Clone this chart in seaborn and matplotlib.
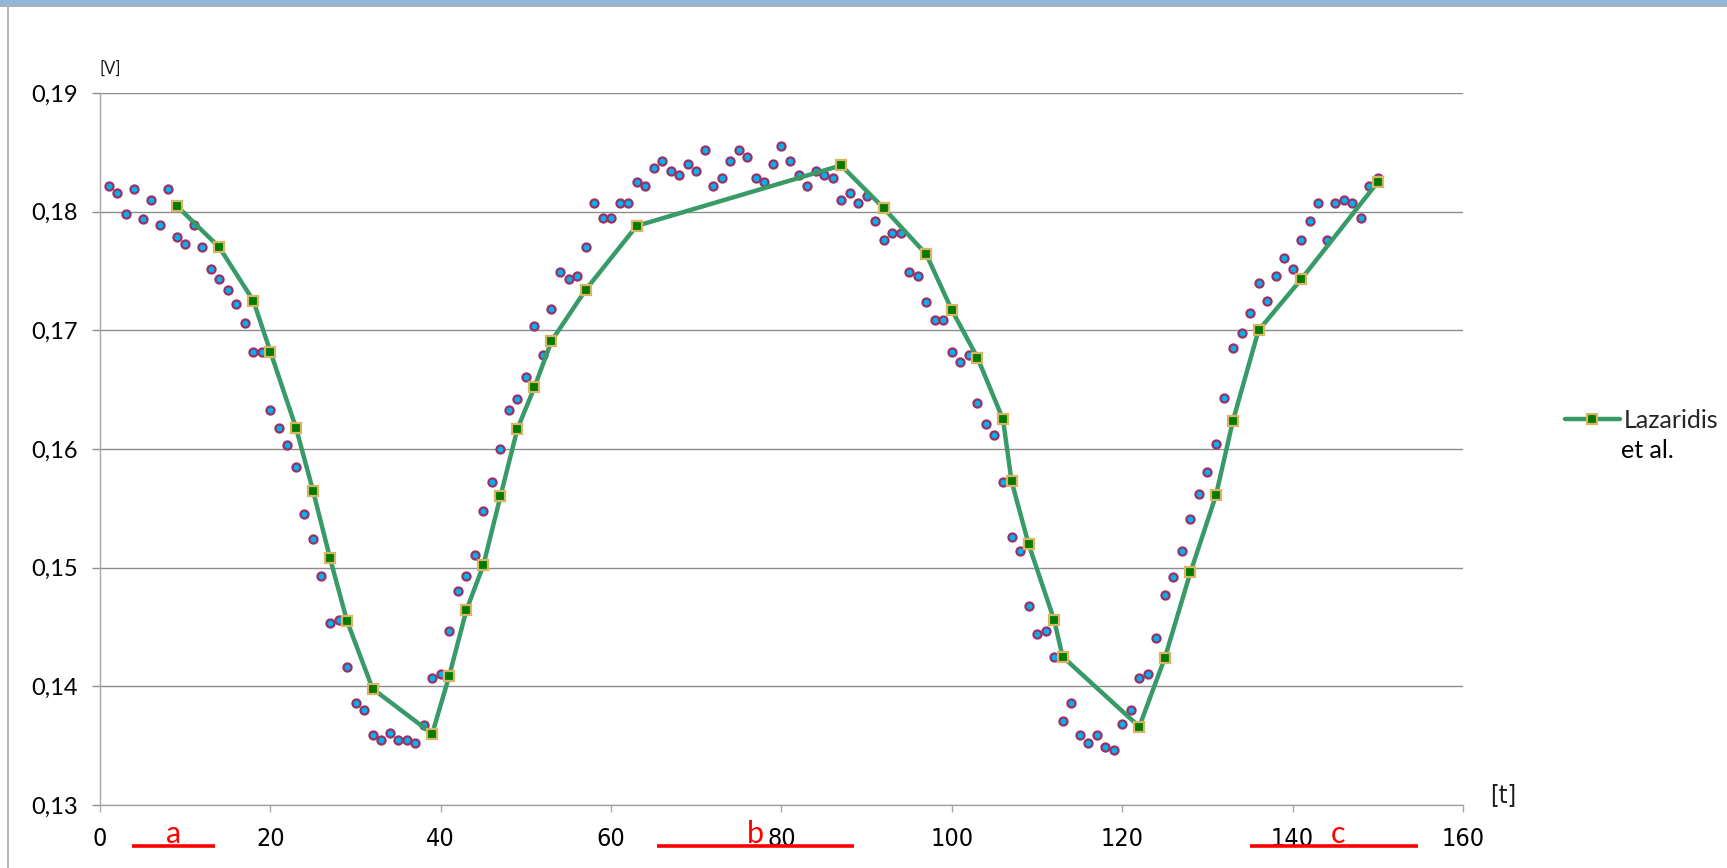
import matplotlib
matplotlib.use("Agg")
import matplotlib.pyplot as plt
import matplotlib.ticker as mticker
from matplotlib.patches import Rectangle
from matplotlib.lines import Line2D
import seaborn as sns
import pandas as pd

# ---- data ----
t_obs = list(range(1, 151))
v_obs = [0.1822, 0.1816, 0.1798, 0.1819, 0.1794, 0.1810, 0.1789, 0.1819, 0.1779, 0.1773,
         0.1789, 0.1770, 0.1752, 0.1743, 0.1734, 0.1722, 0.1706, 0.1682, 0.1682, 0.1633,
         0.1618, 0.1603, 0.1585, 0.1545, 0.1524, 0.1493, 0.1453, 0.1456, 0.1416, 0.1386,
         0.1380, 0.1359, 0.1355, 0.1361, 0.1355, 0.1355, 0.1352, 0.1367, 0.1407, 0.1410,
         0.1447, 0.1480, 0.1493, 0.1511, 0.1548, 0.1572, 0.1600, 0.1633, 0.1642, 0.1661,
         0.1704, 0.1679, 0.1718, 0.1749, 0.1743, 0.1746, 0.1770, 0.1807, 0.1795, 0.1795,
         0.1807, 0.1807, 0.1825, 0.1822, 0.1837, 0.1843, 0.1834, 0.1831, 0.1840, 0.1834,
         0.1852, 0.1822, 0.1828, 0.1843, 0.1852, 0.1846, 0.1828, 0.1825, 0.1840, 0.1855,
         0.1843, 0.1831, 0.1822, 0.1834, 0.1831, 0.1828, 0.1810, 0.1816, 0.1807, 0.1813,
         0.1792, 0.1776, 0.1782, 0.1782, 0.1749, 0.1746, 0.1724, 0.1709, 0.1709, 0.1682,
         0.1673, 0.1679, 0.1639, 0.1621, 0.1612, 0.1572, 0.1526, 0.1514, 0.1468, 0.1444,
         0.1447, 0.1425, 0.1371, 0.1386, 0.1359, 0.1352, 0.1359, 0.1349, 0.1346, 0.1368,
         0.1380, 0.1407, 0.1410, 0.1441, 0.1477, 0.1492, 0.1514, 0.1541, 0.1562, 0.1581,
         0.1604, 0.1643, 0.1685, 0.1698, 0.1715, 0.1740, 0.1725, 0.1746, 0.1761, 0.1752,
         0.1776, 0.1792, 0.1807, 0.1776, 0.1807, 0.1810, 0.1807, 0.1795, 0.1822, 0.1828]

t_fit = [9, 14, 18, 20, 23, 25, 27, 29, 32, 39, 41, 43, 45, 47, 49, 51, 53, 57, 63, 87,
         92, 97, 100, 103, 106, 107, 109, 112, 113, 122, 125, 128, 131, 133, 136, 141, 150]
v_fit = [0.1805, 0.1770, 0.1725, 0.1682, 0.1618, 0.1565, 0.1508, 0.1455, 0.1398, 0.1360,
         0.1409, 0.1464, 0.1502, 0.1560, 0.1617, 0.1652, 0.1691, 0.1734, 0.1788, 0.1839,
         0.1803, 0.1764, 0.1717, 0.1677, 0.1625, 0.1573, 0.1520, 0.1456, 0.1425, 0.1366,
         0.1424, 0.1496, 0.1561, 0.1624, 0.1700, 0.1743, 0.1825]
fit_label_lines = ["Lazaridis", "et al."]

x_ticks = [0, 20, 40, 60, 80, 100, 120, 140, 160]
y_ticks = [0.13, 0.14, 0.15, 0.16, 0.17, 0.18, 0.19]
x_unit = "[t]"
y_unit = "[V]"

region_labels = ["a", "b", "c"]
region_start = [3.8, 65.4, 135.0]
region_end = [13.5, 88.5, 154.7]

# ---- style ----
sns.set_style("white")
plt.rcParams["font.family"] = ["Lato", "DejaVu Sans"]

W, H = 1727, 868
fig = plt.figure(figsize=(W / 100, H / 100), dpi=100)
ax = fig.add_axes([100 / W, 1 - 805 / H, (1463 - 100) / W, (805 - 93) / H])

grid_c = "#8c8c8c"

df_obs = pd.DataFrame({"t": t_obs, "v": v_obs})
df_fit = pd.DataFrame({"t": t_fit, "v": v_fit})

sns.scatterplot(data=df_obs, x="t", y="v", ax=ax, marker="o", s=34,
                color="#00b0f0", edgecolor="#993366", linewidth=1.6, zorder=3, legend=False)
sns.lineplot(data=df_fit, x="t", y="v", ax=ax, color="#379a67", lw=3.2,
             marker="s", markersize=7.0, markerfacecolor="#007a00",
             markeredgecolor="#d8b560", markeredgewidth=1.6, zorder=4,
             label=fit_label_lines[0])

ax.set_xlim(0, 160)
ax.set_ylim(0.13, 0.19)
ax.set_xticks(x_ticks)
ax.set_yticks(y_ticks)
ax.yaxis.set_major_formatter(mticker.FuncFormatter(lambda v, p: f"{v:.2f}".replace(".", ",")))
ax.set_xlabel("")
ax.set_ylabel("")

ax.grid(axis="y", color=grid_c, lw=1.0)
ax.grid(axis="x", visible=False)
for s in ["top", "right"]:
    ax.spines[s].set_visible(False)
for s in ["left", "bottom"]:
    ax.spines[s].set_color("#a6a6a6")
    ax.spines[s].set_linewidth(1.0)

ax.tick_params(axis="y", which="major", direction="out", length=6, width=1, color=grid_c,
               pad=10, labelsize=17, labelcolor="#000000", left=True)
ax.tick_params(axis="x", which="major", direction="out", length=5, width=1, color="#a6a6a6",
               pad=11, labelsize=18, labelcolor="#000000", bottom=True)
for lab in ax.get_xticklabels():
    lab.set_fontfamily("DejaVu Sans")
    lab.set_fontstretch("condensed")

# unit labels
ax.text(10 / 1363, 1.0 + 24 / 712, y_unit, transform=ax.transAxes, ha="center", va="center",
        fontsize=12, color="#1a1a1a")
fig.text(1503 / W, 1 - 795 / H, x_unit, ha="center", va="center", fontsize=18,
         family="DejaVu Sans", stretch="condensed", color="#1a1a1a")

# red region markers below the axis
xtr = ax.get_xaxis_transform()
for lab, a, b in zip(region_labels, region_start, region_end):
    ax.plot([a, b], [-0.0575, -0.0575], transform=xtr, color="#ff0000", lw=2.6,
            clip_on=False, solid_capstyle="butt", zorder=5)
    ax.text((a + b) / 2 + (0.5 if lab == "c" else 0.0), -0.054, lab, transform=xtr,
            ha="center", va="baseline", fontsize=22, color="#ff0000", zorder=6)

# legend (handle aligned to first line, second line placed below)
leg = ax.legend(loc="center left", bbox_to_anchor=(1552 / W, 1 - 420 / H),
                bbox_transform=fig.transFigure, frameon=False, fontsize=18,
                handlelength=2.2, handletextpad=0.15, borderpad=0)
fig.text(1621 / W, 1 - 451 / H, fit_label_lines[1], ha="left", va="center",
         fontsize=18, color="#000000")

# frame decorations
fig.patches.append(Rectangle((0, 1 - 5 / H), 1, 5 / H, transform=fig.transFigure,
                             facecolor="#92b5d8", edgecolor="none", zorder=0))
fig.lines.append(Line2D([0, 1], [1 - 5.5 / H, 1 - 5.5 / H], transform=fig.transFigure,
                        color="#a0a0a0", lw=1.2))
fig.lines.append(Line2D([7.5 / W, 7.5 / W], [0, 1 - 5.5 / H], transform=fig.transFigure,
                        color="#b4b4b4", lw=1.4))

fig.savefig("out.png", dpi=100)
